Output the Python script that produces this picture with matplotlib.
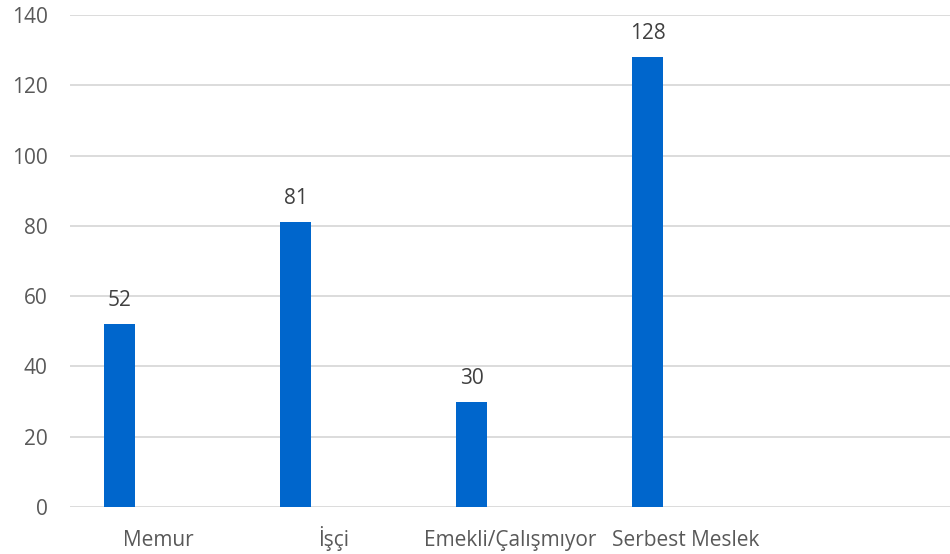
import matplotlib
matplotlib.use('Agg')
import matplotlib.pyplot as plt
import numpy as np

# veri
kategoriler = ['Memur', 'İşçi', 'Emekli/Çalışmıyor', 'Serbest Meslek', '']
degerler = [52, 81, 30, 128]
y_ticks = [0, 20, 40, 60, 80, 100, 120, 140]

plt.rcParams['font.family'] = ['Open Sans', 'DejaVu Sans']
fs = 15

fig = plt.figure(figsize=(9.5, 5.54), dpi=100)
ax = fig.add_axes([70 / 950, 47 / 554, 880 / 950, 492 / 554])

x = np.arange(len(degerler))
bars = ax.bar(x - 0.216, degerler, width=0.176, color='#0066CC', zorder=3)

for b, v in zip(bars, degerler):
    ax.annotate(str(v), (b.get_x() + b.get_width() / 2, v),
                xytext=(0, 13), textcoords='offset points',
                ha='center', va='baseline', fontsize=fs, color='#404040')

ax.set_xlim(-0.5, len(kategoriler) - 0.5)
ax.set_ylim(0, 140)
ax.set_yticks(y_ticks)
ax.set_xticks(np.arange(len(kategoriler)))
ax.set_xticklabels(kategoriler, va='baseline')

ax.grid(axis='y', color='#D9D9D9', linewidth=1.3, zorder=0)
for s in ax.spines.values():
    s.set_visible(False)
ax.tick_params(axis='both', length=0, labelsize=fs, colors='#595959')
ax.tick_params(axis='y', pad=16)
ax.tick_params(axis='x', pad=28)

fig.savefig('out.png', dpi=100)
